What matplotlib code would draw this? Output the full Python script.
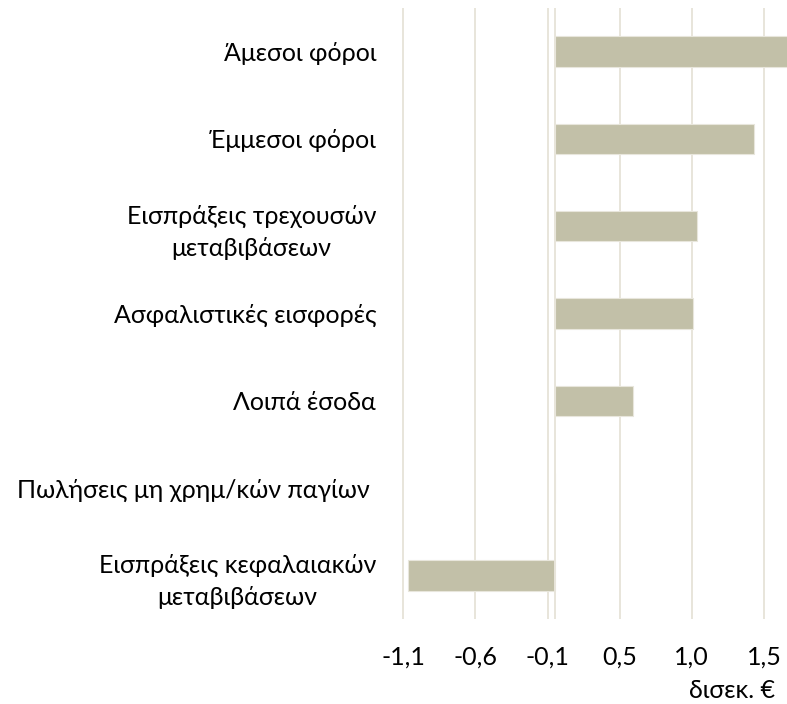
import matplotlib.pyplot as plt

categories = [
    "Άμεσοι φόροι",
    "Έμμεσοι φόροι",
    "Εισπράξεις τρεχουσών\nμεταβιβάσεων",
    "Ασφαλιστικές εισφορές",
    "Λοιπά έσοδα",
    "Πωλήσεις μη χρημ/κών παγίων ",
    "Εισπράξεις κεφαλαιακών\nμεταβιβάσεων",
]
values = [1.70, 1.38, 0.985, 0.955, 0.54, 0.0, -1.02]
tick_values = [-1.05, -0.55, -0.05, 0.45, 0.95, 1.45]
tick_labels = ["-1,1", "-0,6", "-0,1", "0,5", "1,0", "1,5"]

plt.rcParams["font.family"] = ["Lato", "DejaVu Sans"]

fig = plt.figure(figsize=(7.87, 7.04), dpi=100)
ax = fig.add_axes([381.7 / 787, 85 / 704, (787 - 381.7) / 787, 611 / 704])

y = list(range(len(categories)))
ax.barh(y, values, height=0.35, color="#c2c0a8", edgecolor="#e8e6dc",
        linewidth=0.8, zorder=3)

grid_color = "#e8e5db"
for t in tick_values:
    ax.axvline(t, color=grid_color, linewidth=1.4, zorder=1)
ax.axvline(0, color=grid_color, linewidth=1.4, zorder=4)

ax.set_xlim(-1.2, 1.61)
ax.set_ylim(len(categories) - 0.5, -0.5)
ax.set_yticks(y)
ax.set_yticklabels(categories, fontsize=18, linespacing=1.45)
for lab in ax.get_yticklabels():
    lab.set_multialignment("center")
ax.set_xticks(tick_values)
ax.set_xticklabels(tick_labels, fontsize=18)
ax.tick_params(axis="both", length=0)
ax.tick_params(axis="x", pad=19)
ax.tick_params(axis="y", pad=4)
for s in ax.spines.values():
    s.set_visible(False)

fig.text(775 / 787, 14 / 704, "δισεκ. €", fontsize=18, ha="right", va="center")

fig.savefig("out.png", dpi=100)
